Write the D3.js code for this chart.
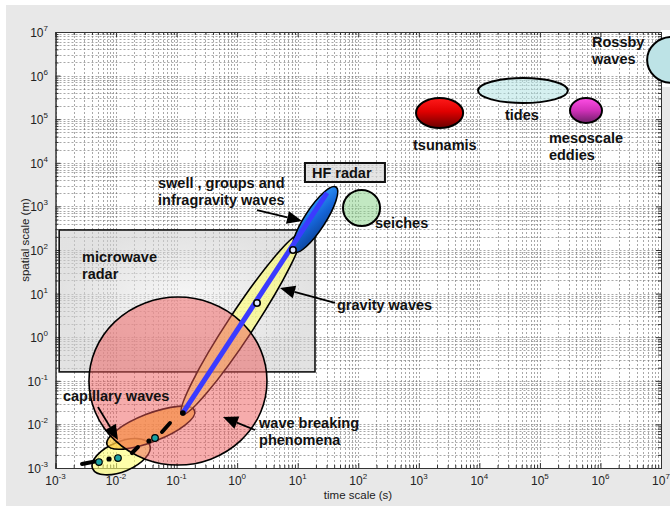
<!DOCTYPE html>
<html><head><meta charset="utf-8">
<script src="https://cdn.jsdelivr.net/npm/d3@7"></script>
<style>body{margin:0;background:#fff}svg{display:block}</style>
</head><body>
<svg id="c" width="670" height="506"></svg>
<script>
// ---------- data ----------
const timeDomain = [1e-3, 1e7];
const spaceDomain = [1e-3, 1e7];
const tickExponents = [-3,-2,-1,0,1,2,3,4,5,6,7];

// axis-aligned phenomena : time range (s) and space range (m)
const blobNames = ["tsunamis","tides","mesoscale eddies","seiches","Rossby waves"];
const blobTime  = [[900,5400],[9500,2.9e5],[3.14e5,1.06e6],[56,229],[5.9e6,3.9e7]];
const blobSpace = [[6.3e4,3.06e5],[2.35e5,8.8e5],[8.2e4,3.06e5],[355,2380],[6.8e5,7.7e6]];

// tilted phenomena : major-axis end points (time s, space m) and width ratio
const bandNames = ["capillary","capillary-gravity","gravity waves","swell, groups, infragravity"];
const bandStart = [[0.0041,0.00097],[0.0071,0.0034],[0.123,0.0173],[8.69,90]];
const bandEnd   = [[0.036,0.0034],[0.198,0.0207],[10.9,221],[42.9,2786]];
const bandWidth = [0.48,0.3,0.12,0.27];

const breakingTime = [0.00357,3.11], breakingSpace = [0.00117,8.36];
const microwaveTime = [1.15e-3,19.3], microwaveSpace = [0.16,288];

const dispersionLine = [[0.127,0.0183],[30.5,2030]];
const gravityMarks = [[8.36,100],[2.13,6.09]];
const capillaryDashes = [[[0.00274,0.00124],[0.00449,0.00141]],[[0.0183,0.00221],[0.0230,0.00303]],[[0.0574,0.0067],[0.0778,0.01076]]];
const capillaryDots = [[0.00766,0.00161],[0.035,0.00416],[0.127,0.0183]];
const capillaryMarks = [[0.00522,0.00137],[0.01076,0.00169],[0.044,0.00488]];

// annotations (data coordinates)
const labelText = [["Rossby","waves"],["tides"],["tsunamis"],["mesoscale","eddies"],["seiches"],
  ["swell , groups and","infragravity waves"],["microwave","radar"],["gravity waves"],["capillary waves"],["wave breaking","phenomena"]];
const labelAt = [[7.25e5,4.53e6],[2.65e4,9.6e4],[802,1.97e4],[1.41e5,2.85e4],[189,320],
  [0.0493,2640],[0.00274,53.1],[44.6,4.2],[0.00133,0.0344],[2.30,0.00826]];
const hfLabel = "HF radar", hfAt = [17.2,4480];
const arrowFrom = [[2.13,826],[41.3,6.09],[0.00503,0.0251],[1.97,0.00745]];
const arrowTo   = [[11.8,462],[5.1,13.4],[0.01076,0.00439],[0.583,0.0148]];

// ---------- drawing ----------
const svg = d3.select("#c");
const FONT = "'Liberation Sans', Arial, Helvetica, sans-serif";
const L=55.5, R=661, T=32, B=468;
const x = d3.scaleLog().domain(timeDomain).range([L,R]);
const y = d3.scaleLog().domain(spaceDomain).range([B,T]);

const defs = svg.append("defs");
function lin(id, stops, x1,y1,x2,y2){
  const g = defs.append("linearGradient").attr("id",id)
    .attr("x1",x1).attr("y1",y1).attr("x2",x2).attr("y2",y2);
  stops.forEach(s=>g.append("stop").attr("offset",s[0]).attr("stop-color",s[1]));
}
lin("gTsu",[[0,"#ff1a1a"],[0.45,"#e00000"],[1,"#6a0000"]],0,0,0,1);
lin("gMeso",[[0,"#ff4ee6"],[0.5,"#d030b8"],[1,"#6e1f68"]],0,0,0,1);
lin("gHF",[[0,"#0b3b8c"],[0.5,"#1565d8"],[1,"#33a0ff"]],0,1,1,0);
const rg = defs.append("radialGradient").attr("id","gMw");
rg.append("stop").attr("offset",0).attr("stop-color","#f2f2f2");
rg.append("stop").attr("offset",1).attr("stop-color","#cfcfcf");

svg.append("rect").attr("width",670).attr("height",506).attr("fill","#fff");
svg.append("rect").attr("x",6).attr("y",5).attr("width",664).attr("height",501).attr("fill","#e8e8e8");
svg.append("rect").attr("x",L).attr("y",T).attr("width",R-L).attr("height",B-T).attr("fill","#fff");
svg.append("rect").attr("x",661).attr("y",30).attr("width",9).attr("height",57).attr("fill","#fff");

// grid
const gridVals = [];
for (let e=-3;e<7;e++) for (let m=1;m<10;m++) gridVals.push(m*Math.pow(10,e));
gridVals.push(1e7);
const grid = svg.append("g").attr("stroke","#222").attr("stroke-width",0.6)
  .attr("stroke-dasharray","2,2").attr("opacity",0.65);
grid.selectAll(".gv").data(gridVals).join("line")
  .attr("x1",d=>Math.round(x(d))+0.5).attr("x2",d=>Math.round(x(d))+0.5).attr("y1",T).attr("y2",B);
grid.selectAll(".gh").data(gridVals).join("line")
  .attr("y1",d=>Math.round(y(d))+0.5).attr("y2",d=>Math.round(y(d))+0.5).attr("x1",L).attr("x2",R);

// axes
const majors = tickExponents.map(e=>Math.pow(10,e));
const minors = gridVals.filter(v=>!majors.some(m=>Math.abs(m-v)/m<1e-9));
function ax(gen, tr, vals, size){
  svg.append("g").attr("transform",tr)
    .call(gen.tickValues(vals).tickSize(size).tickFormat(""))
    .call(g=>{g.select(".domain").attr("stroke","#333");g.selectAll("line").attr("stroke","#333");});
}
ax(d3.axisBottom(x),`translate(0,${B})`,majors,-5);
ax(d3.axisBottom(x),`translate(0,${B})`,minors,-3);
ax(d3.axisTop(x),`translate(0,${T})`,majors,-5);
ax(d3.axisTop(x),`translate(0,${T})`,minors,-3);
ax(d3.axisLeft(y),`translate(${L},0)`,majors,-5);
ax(d3.axisLeft(y),`translate(${L},0)`,minors,-3);
ax(d3.axisRight(y),`translate(${R},0)`,majors,-5);
ax(d3.axisRight(y),`translate(${R},0)`,minors,-3);

// tick labels
tickExponents.forEach(e=>{
  const v = Math.pow(10,e);
  const tx = svg.append("text").attr("x",x(v)).attr("y",485).attr("text-anchor","middle")
    .attr("font-family",FONT).attr("font-size",12).attr("fill","#222");
  tx.append("tspan").text("10");
  tx.append("tspan").attr("dy",-6).attr("font-size",8).text(e);
  const ty = svg.append("text").attr("x",48).attr("y",y(v)+5).attr("text-anchor","end")
    .attr("font-family",FONT).attr("font-size",12).attr("fill","#222");
  ty.append("tspan").text("10");
  ty.append("tspan").attr("dy",-6).attr("font-size",8).text(e);
});
svg.append("text").attr("x",358).attr("y",499).attr("text-anchor","middle")
  .attr("font-family",FONT).attr("font-size",11.5).attr("fill","#222").text("time scale (s)");
svg.append("text").attr("transform","translate(29,240) rotate(-90)").attr("text-anchor","middle")
  .attr("font-family",FONT).attr("font-size",11.5).attr("fill","#222").text("spatial scale (m)");

// microwave radar box
svg.append("rect").attr("x",x(microwaveTime[0])).attr("y",y(microwaveSpace[1]))
  .attr("width",x(microwaveTime[1])-x(microwaveTime[0])).attr("height",y(microwaveSpace[0])-y(microwaveSpace[1]))
  .attr("fill","url(#gMw)").attr("fill-opacity",0.6).attr("stroke","#111").attr("stroke-width",1.6);

// tilted bands
function band(i, fill, op){
  const p1=[x(bandStart[i][0]),y(bandStart[i][1])], p2=[x(bandEnd[i][0]),y(bandEnd[i][1])];
  const cx=(p1[0]+p2[0])/2, cy=(p1[1]+p2[1])/2;
  const a=Math.hypot(p2[0]-p1[0],p2[1]-p1[1])/2;
  const ang=Math.atan2(p2[1]-p1[1],p2[0]-p1[0])*180/Math.PI;
  return svg.append("ellipse").attr("cx",cx).attr("cy",cy).attr("rx",a).attr("ry",a*bandWidth[i])
    .attr("transform",`rotate(${ang} ${cx} ${cy})`).attr("fill",fill).attr("fill-opacity",op)
    .attr("stroke","#000").attr("stroke-width",1.6);
}
band(0,"#ffff70",0.6);
band(1,"#ffc840",0.75);
band(2,"#ffff70",0.6);

// wave breaking
const bx0=x(breakingTime[0]), bx1=x(breakingTime[1]), by0=y(breakingSpace[1]), by1=y(breakingSpace[0]);
svg.append("ellipse").attr("cx",(bx0+bx1)/2).attr("cy",(by0+by1)/2).attr("rx",(bx1-bx0)/2).attr("ry",(by1-by0)/2)
  .attr("fill","#ee5a5a").attr("fill-opacity",0.5).attr("stroke","#000").attr("stroke-width",1.6);

// capillary line pieces
const lineGen = d3.line().x(d=>x(d[0])).y(d=>y(d[1]));
capillaryDashes.forEach(s=>svg.append("path").attr("d",lineGen(s)).attr("stroke","#000")
  .attr("stroke-width",4).attr("stroke-linecap","round").attr("fill","none"));
svg.selectAll(".cd").data(capillaryDots).join("circle").attr("cx",d=>x(d[0])).attr("cy",d=>y(d[1]))
  .attr("r",2.6).attr("fill","#000");

// HF band
band(3,"url(#gHF)",1);

// dispersion line
svg.append("path").attr("d",lineGen(dispersionLine)).attr("stroke","#3b3bff").attr("stroke-width",5).attr("fill","none");
svg.append("circle").attr("cx",x(dispersionLine[0][0])).attr("cy",y(dispersionLine[0][1])).attr("r",2.8).attr("fill","#000");
svg.selectAll(".gm").data(gravityMarks).join("circle").attr("cx",d=>x(d[0])).attr("cy",d=>y(d[1]))
  .attr("r",3.2).attr("fill","#dfe6ff").attr("stroke","#000").attr("stroke-width",1.6);
svg.selectAll(".cm").data(capillaryMarks).join("circle").attr("cx",d=>x(d[0])).attr("cy",d=>y(d[1]))
  .attr("r",3.3).attr("fill","#1aa3a3").attr("stroke","#000").attr("stroke-width",1.2);

// blobs
const blobFill = ["url(#gTsu)","#b3e3e3","url(#gMeso)","#8fd68f","#bde3e6"];
const blobOp = [1,0.55,1,0.55,1];
blobNames.forEach((n,i)=>{
  const x0=x(blobTime[i][0]), x1=x(blobTime[i][1]), y0=y(blobSpace[i][1]), y1=y(blobSpace[i][0]);
  svg.append("ellipse").attr("cx",(x0+x1)/2).attr("cy",(y0+y1)/2).attr("rx",(x1-x0)/2).attr("ry",(y1-y0)/2)
    .attr("fill",blobFill[i]).attr("fill-opacity",blobOp[i]).attr("stroke","#000").attr("stroke-width",2);
});

// labels
labelText.forEach((lines,i)=>{
  const t = svg.append("text").attr("font-family",FONT).attr("font-weight","bold").attr("font-size",14.5).attr("fill","#111");
  lines.forEach((s,k)=>t.append("tspan").attr("x",x(labelAt[i][0])).attr("y",y(labelAt[i][1])+17*k).text(s));
});
const hfT = svg.append("text").attr("x",x(hfAt[0])).attr("y",y(hfAt[1])).attr("font-family",FONT)
  .attr("font-weight","bold").attr("font-size",14.5).attr("fill","#111").text(hfLabel);
const bb = hfT.node().getBBox();
svg.insert("rect",()=>hfT.node()).attr("x",bb.x-7).attr("y",bb.y-2).attr("width",bb.width+20).attr("height",bb.height+3)
  .attr("fill","#d8d8d8").attr("fill-opacity",0.7).attr("stroke","#111").attr("stroke-width",2);

// arrows
arrowFrom.forEach((f,i)=>{
  const p1=[x(f[0]),y(f[1])], p2=[x(arrowTo[i][0]),y(arrowTo[i][1])];
  const ang=Math.atan2(p2[1]-p1[1],p2[0]-p1[0]);
  const hl=15, hw=6.5;
  const bxp=p2[0]-hl*Math.cos(ang), byp=p2[1]-hl*Math.sin(ang);
  svg.append("line").attr("x1",p1[0]).attr("y1",p1[1]).attr("x2",bxp).attr("y2",byp)
    .attr("stroke","#000").attr("stroke-width",1.8);
  const px=-Math.sin(ang), py=Math.cos(ang);
  svg.append("path").attr("d",`M${p2[0]},${p2[1]}L${bxp+hw*px},${byp+hw*py}L${bxp-hw*px},${byp-hw*py}Z`).attr("fill","#000");
});
</script>
</body></html>
